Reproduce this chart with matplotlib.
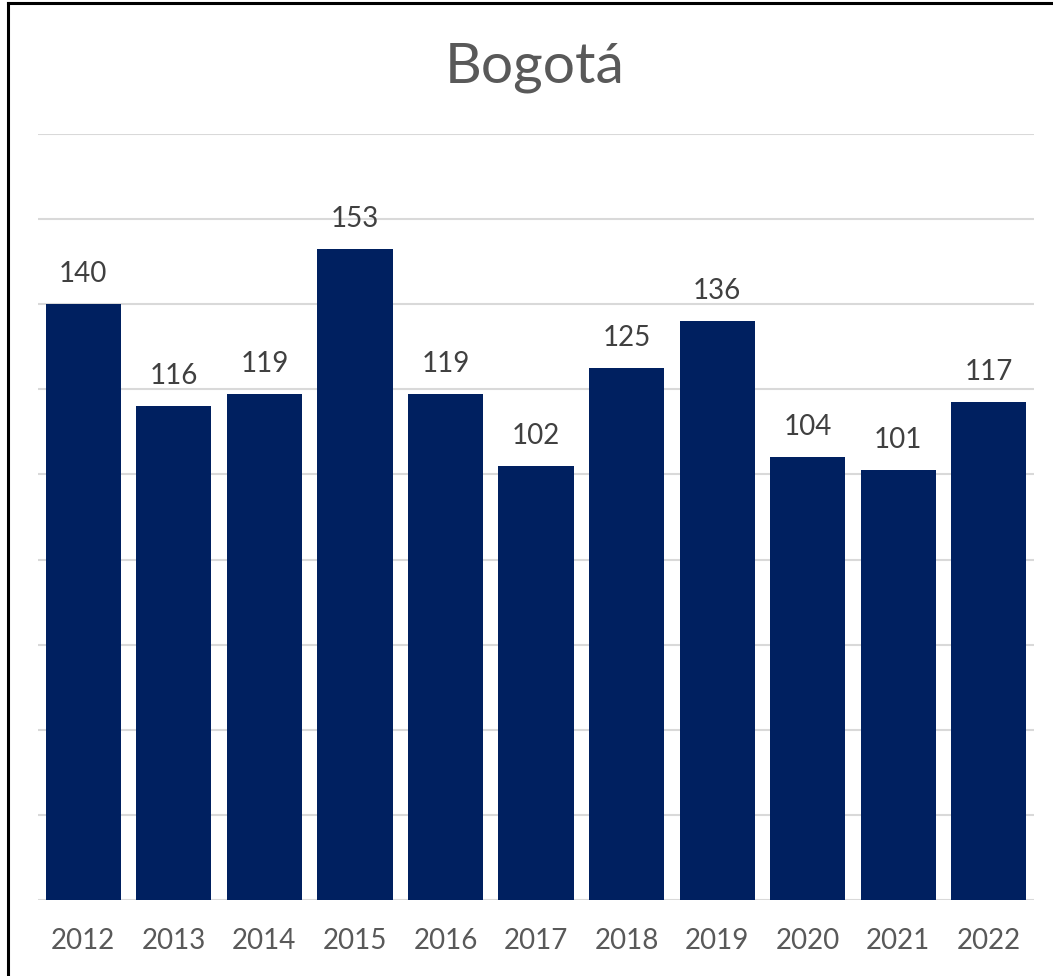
import matplotlib
matplotlib.use("Agg")
import matplotlib.pyplot as plt
from matplotlib.lines import Line2D

plt.rcParams["font.family"] = ["Lato", "DejaVu Sans"]

years = ["2012", "2013", "2014", "2015", "2016", "2017",
         "2018", "2019", "2020", "2021", "2022"]
values = [140, 116, 119, 153, 119, 102, 125, 136, 104, 101, 117]

BAR = "#002060"
GRID = "#d9d9d9"

fig = plt.figure(figsize=(10.53, 9.76), dpi=100)
ax = fig.add_axes([0.0361, 0.0779, 0.9459, 0.7848])

x = range(len(years))
bars = ax.bar(x, values, width=0.83, color=BAR, zorder=3)
for xi, v in zip(x, values):
    ax.text(xi, v + 4, str(v), ha="center", va="bottom",
            fontsize=20, color="#404040")

ax.set_xlim(-0.5, len(years) - 0.5)
ax.set_ylim(0, 180)
ax.set_yticks(range(0, 181, 20))
ax.yaxis.grid(True, color=GRID, lw=1.5, zorder=0)
ax.tick_params(axis="y", left=False, labelleft=False)
ax.tick_params(axis="x", bottom=False, labelsize=20, labelcolor="#595959", pad=17)
ax.set_xticks(list(x))
ax.set_xticklabels(years)
for s in ("top", "right", "left", "bottom"):
    ax.spines[s].set_visible(False)

fig.text(0.508, 0.931, "Bogotá", ha="center", va="center",
         fontsize=41, color="#595959")

# image frame (cropped: only top and left edges visible)
fig.add_artist(Line2D([8 / 1053, 8 / 1053], [0, 1 - 3 / 976],
                      transform=fig.transFigure, color="black", lw=2.2))
fig.add_artist(Line2D([8 / 1053, 1], [1 - 3 / 976, 1 - 3 / 976],
                      transform=fig.transFigure, color="black", lw=2.2))

fig.savefig("out.png", dpi=100, facecolor="white")
